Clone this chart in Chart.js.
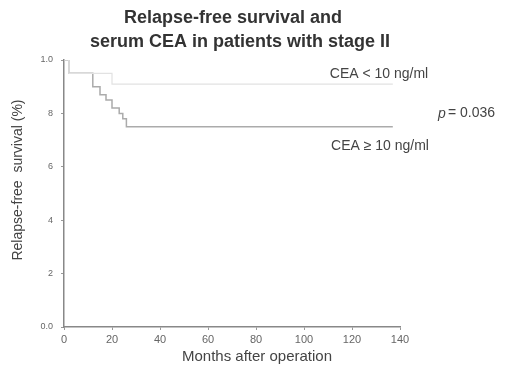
<!DOCTYPE html>
<html>
<head>
<meta charset="utf-8">
<script src="https://cdn.jsdelivr.net/npm/chart.js@4"></script>
<style>
html,body{margin:0;padding:0;background:#fff}
#wrap{width:506px;height:367px;position:relative}
</style>
</head>
<body>
<div id="wrap"><canvas id="kmChart" width="506" height="367"></canvas></div>
<script>
/* ====================================
   DATA
==================================== */

// months / survival for CEA >= 10 ng/ml (steps)
const highMonths=[0,2,12,15,17.5,20,23,24.5,26,137]
const highSurv=[1.0,0.95,0.90,0.87,0.85,0.82,0.80,0.78,0.75,0.75]

// months / survival for CEA < 10 ng/ml
const lowMonths=[0,2,20,137]
const lowSurv=[1.0,0.95,0.91,0.91]

// axis ticks
const xTicks=[0,20,40,60,80,100,120,140]
const yTicks=[0,0.2,0.4,0.6,0.8,1.0]
const yTickLabels=["0.0","2","4","6","8","1.0"]

const titleLines=["Relapse-free survival and","serum CEA in patients with stage II"]
const groupLabels=["CEA < 10 ng/ml","CEA \u2265 10 ng/ml"]
const pText="= 0.036"

function toPoints(xs,ys){
return xs.map((x,i)=>({x:x,y:ys[i]}))
}

/* ====================================
   TEXT PLUGIN (title, labels, axis titles)
==================================== */

const FONT="'Liberation Sans', Arial, sans-serif"

const textPlugin={
id:"textPlugin",
afterDraw(chart){
const ctx=chart.ctx
ctx.save()
ctx.fillStyle="#333"
ctx.textAlign="center"
ctx.textBaseline="middle"
ctx.font="bold 18px "+FONT
ctx.fillText(titleLines[0],233,18)
ctx.fillText(titleLines[1],240,42)

ctx.fillStyle="#444"
ctx.font="14px "+FONT
ctx.fillText(groupLabels[0],379,74)
ctx.fillText(groupLabels[1],380,146)

// p value
ctx.textAlign="left"
ctx.font="italic 14px "+FONT
ctx.fillText("p",438,114)
ctx.font="14px "+FONT
ctx.fillText(pText,448,113)

// x axis title
ctx.textAlign="center"
ctx.font="15px "+FONT
ctx.fillText("Months after operation",257,357)

// y axis title
ctx.font="14px "+FONT
ctx.translate(18,180)
ctx.rotate(-Math.PI/2)
ctx.fillText("Relapse-free  survival (%)",0,0)
ctx.restore()
}
}

/* ====================================
   CHART
==================================== */

new Chart(document.getElementById("kmChart"),{
type:"line",
data:{
datasets:[
{
label:groupLabels[0],
data:toPoints(lowMonths,lowSurv),
stepped:"before",
borderColor:"#e2e2e2",
borderWidth:1.2,
pointRadius:0,
fill:false
},
{
label:groupLabels[1],
data:toPoints(highMonths,highSurv),
stepped:"before",
borderColor:"#ababab",
borderWidth:1.5,
pointRadius:0,
fill:false
}
]
},
options:{
responsive:false,
animation:false,
layout:{padding:{left:0,right:106,top:60,bottom:0}},
plugins:{
legend:{display:false},
tooltip:{enabled:false}
},
scales:{
x:{
type:"linear",
min:0,
max:140,
afterBuildTicks(axis){axis.ticks=xTicks.map(v=>({value:v}))},
afterFit(axis){axis.height=40},
grid:{display:true,drawOnChartArea:false,drawTicks:true,tickLength:3,color:"#999"},
border:{color:"#888",width:1.5},
ticks:{color:"#666",padding:3,font:{size:11,family:FONT},maxRotation:0}
},
y:{
type:"linear",
min:0,
max:1,
afterBuildTicks(axis){axis.ticks=yTicks.map(v=>({value:v}))},
afterFit(axis){axis.width=64},
grid:{display:true,drawOnChartArea:false,drawTicks:true,tickLength:3,color:"#999"},
border:{color:"#888",width:1.5},
ticks:{
color:"#666",
padding:8,
font:{size:9,family:FONT},
callback:function(v){
const i=yTicks.findIndex(t=>Math.abs(t-v)<1e-6)
return i>=0?yTickLabels[i]:""
}
}
}
}
},
plugins:[textPlugin]
})
</script>
</body>
</html>
